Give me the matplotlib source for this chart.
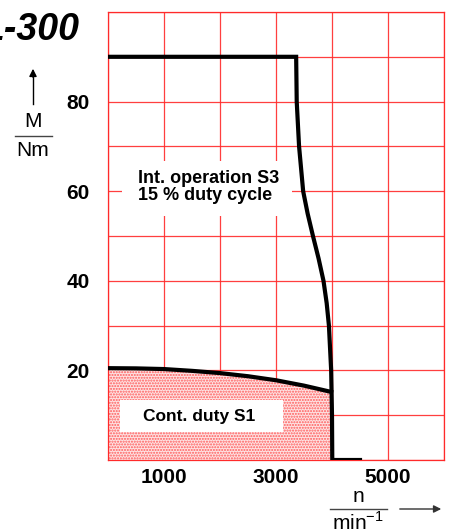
"""Torque-speed characteristic of a servo motor (S1 / S3 duty)."""

import matplotlib

matplotlib.use("Agg")
import matplotlib.pyplot as plt
from matplotlib.patches import Rectangle

plt.rcParams["font.family"] = ["Liberation Sans", "DejaVu Sans"]
plt.rcParams["mathtext.fontset"] = "custom"
plt.rcParams["mathtext.rm"] = "Liberation Sans"

# intermittent operation S3 limit curve
s3_speed = [0, 3360, 3370, 3412, 3485, 3565, 3660, 3760, 3848, 3905, 3945, 3985, 4000, 4005, 4500]
s3_torque = [90, 90, 80, 70, 60, 55, 50, 45, 40, 35, 30, 20, 10, 0, 0]

# continuous duty S1 curve
s1_speed = [0, 500, 1000, 1500, 2000, 2500, 3000, 3500, 3985]
s1_torque = [20.5, 20.45, 20.3, 19.9, 19.4, 18.7, 17.8, 16.6, 15.2]

x_ticks = [0, 1000, 2000, 3000, 4000, 5000, 6000]
x_labels = ["", "1000", "", "3000", "", "5000", ""]
y_ticks = [0, 10, 20, 30, 40, 50, 60, 70, 80, 90, 100]
y_labels = ["", "", "20", "", "40", "", "60", "", "80", "", ""]

RED = "#ff2a2a"
W, H = 450, 532


def fx(px):
    return px / W


def fy(py):
    return 1 - py / H


fig = plt.figure(figsize=(4.5, 5.32), dpi=100)
ax = fig.add_axes([fx(108), fy(460), fx(444) - fx(108), fy(12) - fy(460)])
ax.set_xlim(0, 6000)
ax.set_ylim(0, 100)

ax.set_xticks(x_ticks, x_labels, fontsize=15, fontweight="bold")
ax.set_yticks(y_ticks, y_labels, fontsize=15, fontweight="bold")
ax.tick_params(length=0)
ax.tick_params(axis="x", pad=6)
ax.tick_params(axis="y", pad=13)
ax.grid(color=RED, linewidth=0.9, alpha=0.9)
ax.set_axisbelow(True)
for spine in ax.spines.values():
    spine.set_color(RED)
    spine.set_linewidth(0.9)

# stippled area under the continuous curve
ax.fill_between(s1_speed, s1_torque, 0, facecolor="#fde3e3", edgecolor="#ff5a5a",
                hatch="......", linewidth=0, zorder=1)

# white label backgrounds
ax.add_patch(Rectangle((250, 54.5), 3040, 12.2, facecolor="white", edgecolor="none", zorder=2))
ax.add_patch(Rectangle((215, 6.2), 2910, 7.2, facecolor="white", edgecolor="none", zorder=2))

ax.plot(s3_speed, s3_torque, color="black", linewidth=3.0, solid_joinstyle="miter", zorder=4)
ax.plot(s1_speed, s1_torque, color="black", linewidth=3.0, zorder=4)

ax.text(540, 61.0, "Int. operation S3\n15 % duty cycle", fontsize=13, fontweight="bold",
        ha="left", va="center", linespacing=1.0, zorder=5)
ax.text(1630, 9.8, "Cont. duty S1", fontsize=12.5, fontweight="bold",
        ha="center", va="center", zorder=5)

# title fragment, cut at the left edge as in the source sheet
fig.text(fx(79), fy(30), "L-300", fontsize=27, fontweight="bold", style="italic",
         ha="right", va="center")

# y axis quantity
fig.text(fx(33), fy(121), "M", fontsize=15, ha="center", va="center")
fig.text(fx(33), fy(151), "Nm", fontsize=15, ha="center", va="center")
fig.add_artist(plt.Line2D([fx(15), fx(52)], [fy(136), fy(136)], color="#444444", linewidth=1.0))
fig.add_artist(plt.Line2D([fx(33), fx(33)], [fy(104), fy(76)], color="black", linewidth=1.0))
ax.annotate("", xy=(fx(33), fy(66)), xytext=(fx(33), fy(80)), xycoords="figure fraction",
            arrowprops=dict(arrowstyle="-|>", color="black", lw=1.0, mutation_scale=11))

# x axis quantity
fig.text(fx(358), fy(497), "n", fontsize=15, ha="center", va="center")
fig.text(fx(358), fy(522), "min$^{-1}$", fontsize=15, ha="center", va="center")
fig.add_artist(plt.Line2D([fx(330), fx(387)], [fy(509), fy(509)], color="#444444", linewidth=1.0))
ax.annotate("", xy=(fx(444), fy(509)), xytext=(fx(397), fy(509)), xycoords="figure fraction",
            arrowprops=dict(arrowstyle="-|>", color="#333333", lw=1.0, mutation_scale=11))

fig.savefig("out.png", dpi=100, facecolor="white")
